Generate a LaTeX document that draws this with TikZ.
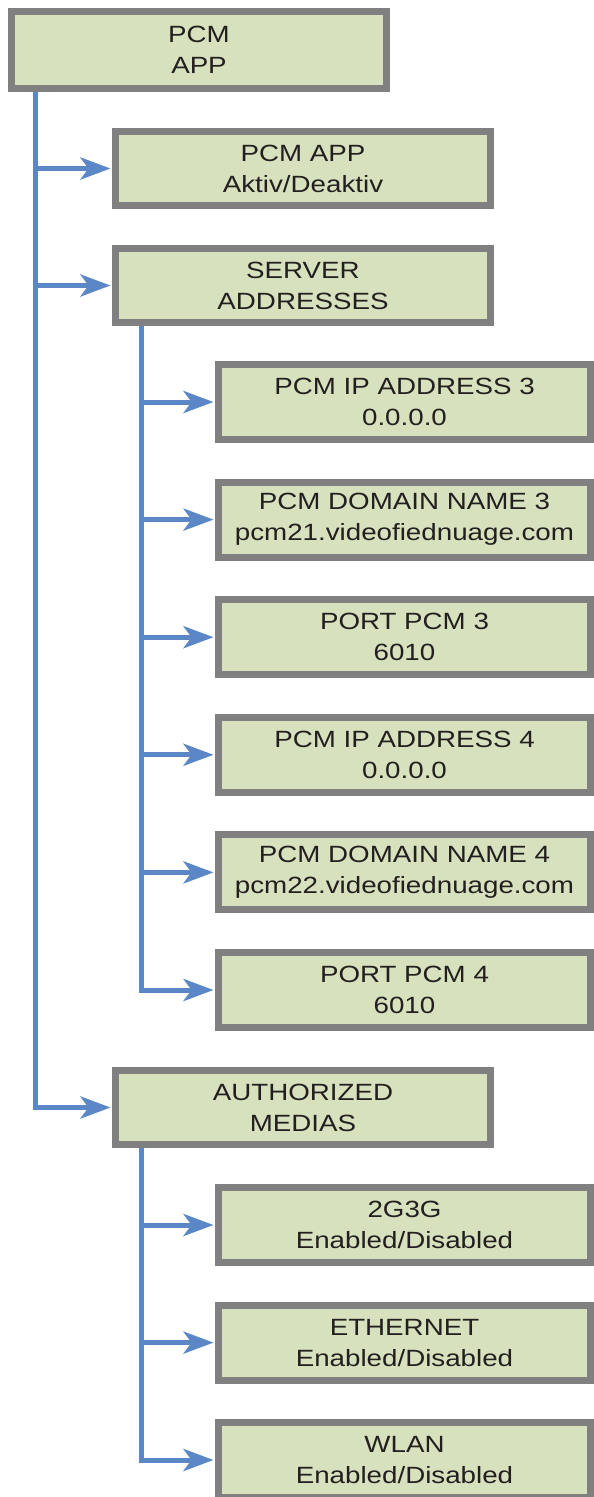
\documentclass[tikz,border=0pt]{standalone}
\usepackage{fontspec}
\setmainfont{Liberation Sans}[FakeStretch=1.18]
\usetikzlibrary{arrows.meta,positioning}
\definecolor{boxfill}{RGB}{216,225,189}
\definecolor{boxline}{RGB}{128,128,128}
\definecolor{linkblue}{RGB}{91,135,199}
\definecolor{txt}{RGB}{35,31,32}

\begin{document}
\begin{tikzpicture}[x=1pt,y=-1pt,
	menu/.style={draw=boxline,line width=7pt,fill=boxfill,text=txt,align=center,
		inner sep=0pt,font=\fontsize{23.5}{31}\selectfont},
	rootbox/.style={menu,minimum width=375pt,minimum height=77pt},
	subbox/.style={menu,minimum width=375pt,minimum height=74pt},
	leafbox/.style={menu,minimum width=372pt,minimum height=75pt},
	link/.style={linkblue,line width=5pt,
		-{Stealth[length=30pt,width=22pt,inset=8pt]},shorten >=1.5pt}]
		\useasboundingbox (0,0) rectangle (594,1497);
		
		\node[rootbox] (root) at (199,50) {PCM\\APP};
		
		\node[subbox] (app) at (303,168.5) {PCM APP\\Aktiv/Deaktiv};
		\node[subbox] (srv) at (303,285.5) {SERVER\\ADDRESSES};
		\node[subbox] (med) at (303,1107.5) {AUTHORIZED\\MEDIAS};
		
		\node[leafbox] (ip3)   at (404.5,402)   {PCM IP ADDRESS 3\\0.0.0.0};
		\node[leafbox] (dom3)  at (404.5,519.6) {PCM DOMAIN NAME 3\\pcm21.videofiednuage.com};
		\node[leafbox] (port3) at (404.5,637.2) {PORT PCM 3\\6010};
		\node[leafbox] (ip4)   at (404.5,754.8) {PCM IP ADDRESS 4\\0.0.0.0};
		\node[leafbox] (dom4)  at (404.5,872.4) {PCM DOMAIN NAME 4\\pcm22.videofiednuage.com};
		\node[leafbox] (port4) at (404.5,990)   {PORT PCM 4\\6010};
		
		\node[leafbox] (g3)   at (404.5,1225)   {2G3G\\Enabled/Disabled};
		\node[leafbox] (eth)  at (404.5,1342.6) {ETHERNET\\Enabled/Disabled};
		\node[leafbox] (wlan) at (404.5,1460)   {WLAN\\Enabled/Disabled};
		
		\foreach \t in {app,srv,med}
		\draw[link] ([xshift=27pt]root.south west) |- (\t.west);
		\foreach \t in {ip3,dom3,port3,ip4,dom4,port4}
		\draw[link] ([xshift=29pt]srv.south west) |- (\t.west);
		\foreach \t in {g3,eth,wlan}
		\draw[link] ([xshift=29pt]med.south west) |- (\t.west);
	\end{tikzpicture}
\end{document}
